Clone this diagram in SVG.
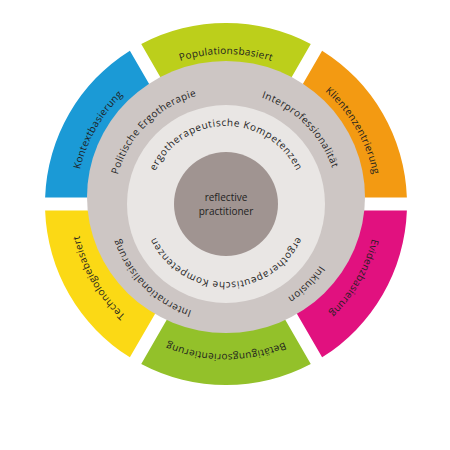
<svg xmlns="http://www.w3.org/2000/svg" xmlns:xlink="http://www.w3.org/1999/xlink" width="450" height="450" viewBox="0 0 450 450">
<style>
.lbl{font-family:"Open Sans","Liberation Sans",sans-serif;font-size:10px;fill:#1e1e1e;letter-spacing:0.3px}
.lg{letter-spacing:0.4px}
.ll{letter-spacing:0.6px;font-size:10px}
.ctr{font-family:"Open Sans","Liberation Sans",sans-serif;font-size:10px;fill:#1e1e1e;text-anchor:middle}
</style>
<defs>
<path id="sector" d="M141.24,44.07 A181,181 0 0 1 310.76,44.07 L270.27,114.33 A100,100 0 0 0 181.73,114.33 Z"/>
<path id="arcC" d="M76,204 A150,150 0 0 1 376,204"/>
<path id="arcG" d="M114,204 A112,112 0 0 1 338,204"/>
<path id="arcL" d="M148,204 A78,78 0 0 1 304,204"/>
</defs>
<rect width="450" height="450" fill="#ffffff"/>
<g id="segments">
<g id="populationsbasiert"><use href="#sector" fill="#bccf1b"/></g>
<g id="klientenzentrierung"><use href="#sector" fill="#f39a12" transform="rotate(60 226 204)"/></g>
<g id="evidenzbasierung"><use href="#sector" fill="#e1117f" transform="rotate(120 226 204)"/></g>
<g id="betaetigungsorientierung"><use href="#sector" fill="#93c12a" transform="rotate(180 226 204)"/></g>
<g id="technologiebasiert"><use href="#sector" fill="#fbd915" transform="rotate(240 226 204)"/></g>
<g id="kontextbasierung"><use href="#sector" fill="#1b9ad6" transform="rotate(300 226 204)"/></g>
</g>
<g id="outer-ring"><ellipse cx="226" cy="197" rx="139" ry="136" fill="#cdc6c4"/></g>
<g id="competence-ring"><circle cx="226" cy="204" r="99" fill="#e9e6e4"/></g>
<g id="center"><circle cx="226" cy="204" r="52" fill="#a09491"/>
<text class="ctr" x="226" y="200.5">reflective</text>
<text class="ctr" x="226" y="215">practitioner</text>
</g>
<g id="labels-outer">
<text class="lbl"><textPath href="#arcC" startOffset="50%" text-anchor="middle">Populationsbasiert</textPath></text>
<text class="lbl" transform="rotate(60 226 204)"><textPath href="#arcC" startOffset="50%" text-anchor="middle">Klientenzentrierung</textPath></text>
<text class="lbl" transform="rotate(120 226 204)"><textPath href="#arcC" startOffset="50%" text-anchor="middle">Evidenzbasierung</textPath></text>
<text class="lbl" transform="rotate(180 226 204)"><textPath href="#arcC" startOffset="50%" text-anchor="middle">Betätigungsorientierung</textPath></text>
<text class="lbl" transform="rotate(240 226 204)"><textPath href="#arcC" startOffset="50%" text-anchor="middle">Technologiebasiert</textPath></text>
<text class="lbl" transform="rotate(300 226 204)"><textPath href="#arcC" startOffset="50%" text-anchor="middle">Kontextbasierung</textPath></text>
</g>
<g id="labels-gray">
<text class="lbl lg" transform="rotate(-45 226 204)"><textPath href="#arcG" startOffset="50%" text-anchor="middle">Politische Ergotherapie</textPath></text>
<text class="lbl lg" transform="rotate(45 226 204)"><textPath href="#arcG" startOffset="50%" text-anchor="middle">Interprofessionalität</textPath></text>
<text class="lbl lg" transform="rotate(135 226 204)"><textPath href="#arcG" startOffset="50%" text-anchor="middle">Inklusion</textPath></text>
<text class="lbl lg" transform="rotate(225 226 204)"><textPath href="#arcG" startOffset="50%" text-anchor="middle">Internationalisierung</textPath></text>
</g>
<g id="labels-light">
<text class="lbl ll"><textPath href="#arcL" startOffset="50%" text-anchor="middle">ergotherapeutische Kompetenzen</textPath></text>
<text class="lbl ll" transform="rotate(180 226 204)"><textPath href="#arcL" startOffset="50%" text-anchor="middle">ergotherapeutische Kompetenzen</textPath></text>
</g>
</svg>
